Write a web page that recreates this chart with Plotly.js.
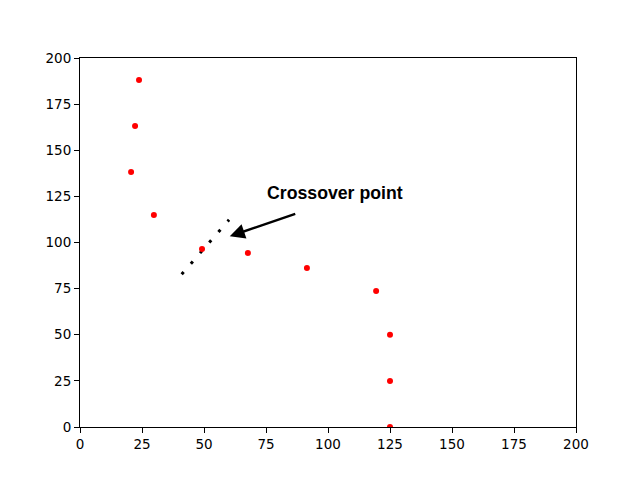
<!DOCTYPE html>
<html>
<head>
<script src="https://cdn.plot.ly/plotly-3.0.1.min.js"></script>
<style>body{margin:0;background:#fff}</style>
</head>
<body>
<div id="myPlot" style="width:641px;height:481px"></div>
<script>
var xPoints = [23.8, 22.2, 20.6, 29.8, 49.2, 67.7, 91.5, 119.4, 125, 125, 125];
var yPoints = [188.1, 163.1, 138.2, 114.9, 96.5, 94.3, 86.2, 73.7, 50, 25, 0];

var xLine = [41.0, 60.1];
var yLine = [82.8, 112.3];

var arrowTip = [60.4, 103.4];
var arrowTail = [87.4, 115.8];
var labelText = "Crossover point";
var labelPos = [74.6, 120.5];

var tickVals = [0, 25, 50, 75, 100, 125, 150, 175, 200];

var axisStyle = {
  range: [0, 200],
  tickvals: tickVals,
  showgrid: false,
  zeroline: false,
  showline: true,
  mirror: true,
  linecolor: "black",
  linewidth: 1,
  ticks: "outside",
  ticklen: 5,
  tickwidth: 1,
  tickcolor: "black",
  tickfont: {family: "DejaVu Sans", size: 13.5, color: "black"}
};

var data = [
  {x: xLine, y: yLine, mode: "lines", type: "scatter",
   line: {color: "black", width: 3, dash: "3px,11px"}},
  {x: xPoints, y: yPoints, mode: "markers", type: "scatter",
   marker: {color: "red", size: 6}}
];

var layout = {
  width: 641, height: 481,
  showlegend: false,
  paper_bgcolor: "white", plot_bgcolor: "white",
  margin: {l: 80, r: 65, t: 58, b: 54},
  xaxis: axisStyle,
  yaxis: axisStyle,
  annotations: [
    {x: arrowTip[0], y: arrowTip[1], ax: arrowTail[0], ay: arrowTail[1],
     xref: "x", yref: "y", axref: "x", ayref: "y",
     text: "", showarrow: true, arrowhead: 2, arrowsize: 1.2, arrowwidth: 2.5, arrowcolor: "black"},
    {x: labelPos[0], y: labelPos[1], xref: "x", yref: "y",
     xanchor: "left", yanchor: "bottom", showarrow: false,
     text: "<b>" + labelText + "</b>",
     font: {family: "Liberation Sans", size: 17.7, color: "black"}}
  ]
};

Plotly.newPlot("myPlot", data, layout, {displayModeBar: false});
</script>
</body>
</html>
